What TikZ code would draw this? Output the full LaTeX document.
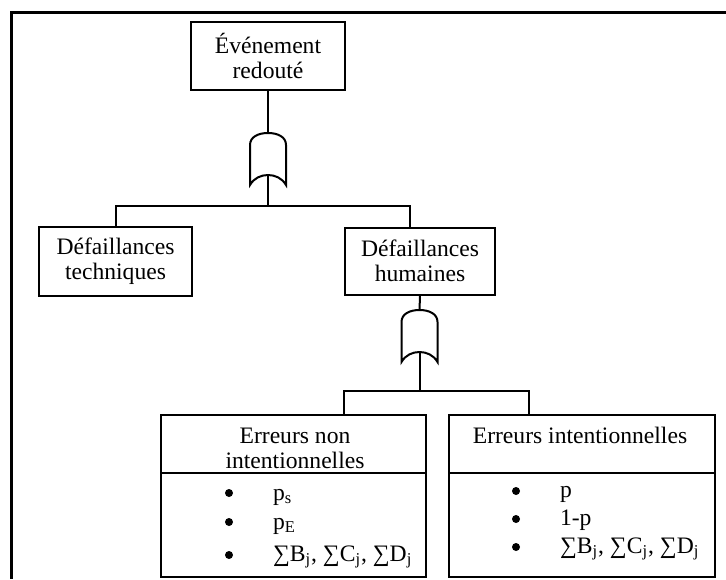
\documentclass[tikz,border=0pt]{standalone}
\usepackage{fontspec}
\setmainfont{Liberation Serif}
\tikzset{
  orgate/.pic={
    \draw (-18,-14) .. controls (-18,-22) and (-10,-26) .. (0,-26)
      .. controls (10,-26) and (18,-22) .. (18,-14) -- (18,26)
      .. controls (14,19) and (7,16) .. (0,16)
      .. controls (-7,16) and (-14,19) .. (-18,26) -- cycle;
    \coordinate (-in) at (0,-26);
    \coordinate (-out) at (0,16);
  }
}
\begin{document}
\begin{tikzpicture}[x=0.5pt,y=-0.5pt,line width=1pt,
  box/.style={draw,inner sep=0pt,align=center,font=\fontsize{11.8}{12.3}\selectfont},
  txt/.style={inner sep=0pt,font=\fontsize{11.8}{12.3}\selectfont},
  dot/.style={circle,fill,inner sep=0pt,minimum size=4pt}]
\useasboundingbox (0,0) rectangle (726,579);
\draw[line width=1.5pt] (726,12) -- (11,12) -- (11,579);
\node[box,minimum width=77pt,minimum height=34pt] (top) at (268,56) {Événement\\redouté};
\pic (g1) at (268,159) {orgate};
\draw (top.south) -- (g1-in);
\coordinate (j1) at (268,206);
\draw (g1-out) -- (j1);
\node[box,minimum width=76.5pt,minimum height=34.5pt] (tech) at (115.5,261) {Défaillances\\techniques};
\node[box,minimum width=75pt,minimum height=33.5pt] (hum) at (420,261) {Défaillances\\humaines};
\draw (tech.north) |- (j1) -| ([xshift=-5pt]hum.north);
\pic (g2) at (419.5,336) {orgate};
\draw (hum.south) -- (g2-in);
\coordinate (j2) at (419.5,391);
\draw (g2-out) -- (j2);
\node[box,minimum width=132.5pt,minimum height=29pt] (nonint) at (293.5,444) {};
\node[box,minimum width=132.5pt,minimum height=52pt] (nonint-body) at (293.5,525) {};
\node[box,minimum width=133pt,minimum height=29pt] (int) at (582,444) {};
\node[box,minimum width=133pt,minimum height=52pt] (int-body) at (582,525) {};
\draw (344,0 |- nonint.north) |- (j2) -| (529,0 |- int.north);
\node[txt,align=center,anchor=base] (nonint-t) at (295,468) {Erreurs non\\intentionnelles};
\node[txt,anchor=base] (int-t) at (580,443) {Erreurs intentionnelles};
\node[dot] (b1) at (229,493) {};
\node[txt,anchor=base west] (ps) at (272,500) {p\textsubscript{s}};
\node[dot] (b2) at (229,522) {};
\node[txt,anchor=base west] (pe) at (272,529) {p\textsubscript{E}};
\node[dot] (b3) at (229,555) {};
\node[txt,anchor=base west] (sum1) at (272,561) {∑B\textsubscript{j}, ∑C\textsubscript{j}, ∑D\textsubscript{j}};
\node[dot] (b4) at (516,491) {};
\node[txt,anchor=base west] (p) at (559,497) {p};
\node[dot] (b5) at (516,519) {};
\node[txt,anchor=base west] (q) at (559,525) {1-p};
\node[dot] (b6) at (516,547) {};
\node[txt,anchor=base west] (sum2) at (559,553) {∑B\textsubscript{j}, ∑C\textsubscript{j}, ∑D\textsubscript{j}};
\end{tikzpicture}
\end{document}
